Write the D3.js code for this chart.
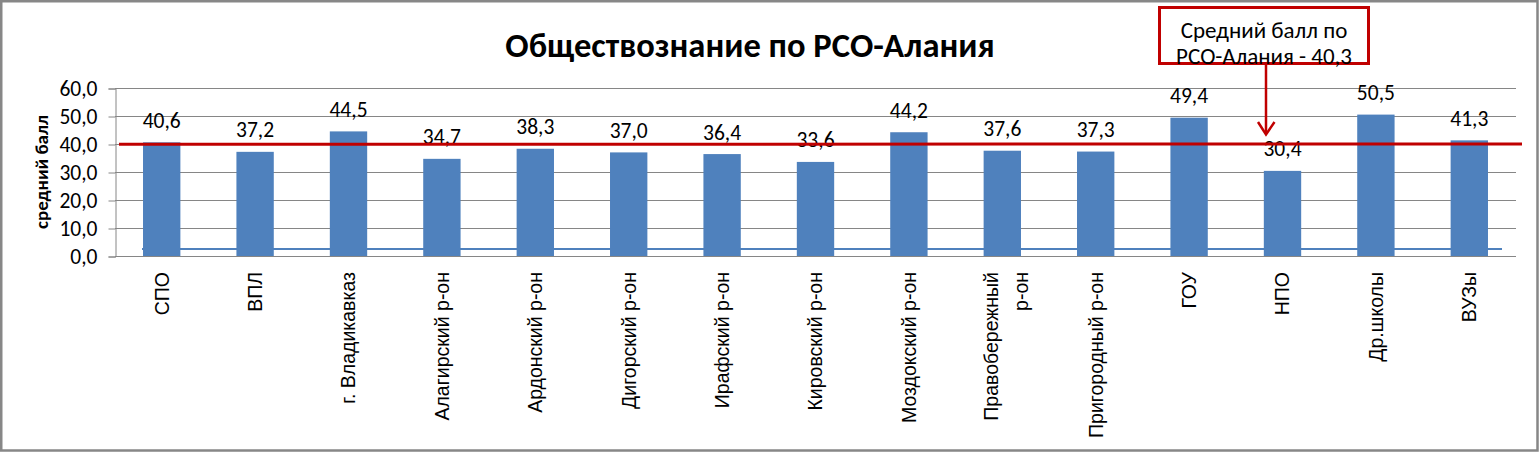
<!DOCTYPE html>
<html>
<head>
<meta charset="utf-8">
<script src="https://cdn.jsdelivr.net/npm/d3@7/dist/d3.min.js"></script>
<style>
  html, body { margin: 0; padding: 0; background: #fff; }
  svg { display: block; }
</style>
</head>
<body>
<script>
// ---- data ----
const categories = [
  ["СПО"], ["ВПЛ"], ["г. Владикавказ"], ["Алагирский р-он"], ["Ардонский р-он"],
  ["Дигорский р-он"], ["Ирафский р-он"], ["Кировский р-он"], ["Моздокский р-он"],
  ["Правобережный", "р-он"], ["Пригородный р-он"], ["ГОУ"], ["НПО"], ["Др.школы"], ["ВУЗы"]
];
const values = [40.6, 37.2, 44.5, 34.7, 38.3, 37.0, 36.4, 33.6, 44.2, 37.6, 37.3, 49.4, 30.4, 50.5, 41.3];
const yTicks = [0, 10, 20, 30, 40, 50, 60];
const averageValue = 40.3;
const baseLineValue = 2.5;
const titleText = "Обществознание по РСО-Алания";
const yAxisTitle = "средний балл";
const calloutLines = ["Средний балл по", "РСО-Алания - 40,3"];

// ---- layout ----
const W = 1539, H = 452;
const plot = { left: 115, right: 1516, top: 88, bottom: 256 };
const fmt = v => d3.format(".1f")(v).replace(".", ",");
const uiFont = "Carlito, Lato, 'Open Sans', sans-serif";
const labelFont = "'Liberation Sans', Arial, sans-serif";

const svg = d3.select("body").append("svg").attr("width", W).attr("height", H);

// chart border
svg.append("rect").attr("x", 1.25).attr("y", 1.25).attr("width", W - 2.75).attr("height", H - 2.75)
  .attr("fill", "#fff").attr("stroke", "#878787").attr("stroke-width", 2.5);

const x = d3.scaleBand().domain(d3.range(categories.length))
  .range([plot.left, plot.right]).paddingInner(0.6).paddingOuter(0.3);
const y = d3.scaleLinear().domain([0, 60]).range([plot.bottom, plot.top]);

// gridlines
svg.append("g").selectAll("line").data(yTicks.filter(t => t > 0)).join("line")
  .attr("x1", plot.left).attr("x2", plot.right)
  .attr("y1", d => y(d) + 0.5).attr("y2", d => y(d) + 0.5)
  .attr("stroke", "#868686").attr("stroke-width", 1);

// y axis
const yAxis = svg.append("g").attr("transform", `translate(${plot.left + 0.5},0.5)`)
  .call(d3.axisLeft(y).tickValues(yTicks).tickFormat(fmt).tickSize(7).tickPadding(11));
yAxis.select(".domain").attr("stroke", "#868686");
yAxis.selectAll(".tick line").attr("stroke", "#868686");
yAxis.selectAll(".tick text").attr("font-family", uiFont).attr("font-size", 21.5).attr("fill", "#000");

// x axis line
svg.append("line").attr("x1", plot.left).attr("x2", plot.right)
  .attr("y1", plot.bottom + 0.5).attr("y2", plot.bottom + 0.5)
  .attr("stroke", "#868686").attr("stroke-width", 1);

// bars
svg.append("g").selectAll("rect").data(values).join("rect")
  .attr("x", (d, i) => x(i)).attr("width", x.bandwidth())
  .attr("y", d => y(d)).attr("height", d => y(0) - y(d))
  .attr("fill", "#4f81bd");

// data labels
svg.append("g").selectAll("text").data(values).join("text")
  .attr("x", (d, i) => x(i) + x.bandwidth() / 2).attr("y", d => y(d) - 14.5)
  .attr("text-anchor", "middle").attr("font-family", uiFont).attr("font-size", 21.5)
  .attr("fill", "#000").text(fmt);

// category labels (rotated)
const catG = svg.append("g");
categories.forEach((lines, i) => {
  const cx = x(i) + x.bandwidth() / 2;
  const spacing = 30;
  const offset = lines.length > 1 ? 4 : 0;
  lines.forEach((ln, j) => {
    const lx = cx + offset + (j - (lines.length - 1) / 2) * spacing + 6.8;
    catG.append("text")
      .attr("transform", `translate(${lx},${plot.bottom + 16}) rotate(-90)`)
      .attr("text-anchor", "end")
      .attr("font-family", labelFont).attr("font-size", 19.5).attr("fill", "#000")
      .text(ln);
  });
});

// blue baseline shape
svg.append("line").attr("x1", 142).attr("x2", 1502)
  .attr("y1", y(baseLineValue)).attr("y2", y(baseLineValue))
  .attr("stroke", "#4f81bd").attr("stroke-width", 2);

// red average line
svg.append("line").attr("x1", 119).attr("x2", 1522)
  .attr("y1", y(averageValue) + 1.2).attr("y2", y(averageValue) + 0.8)
  .attr("stroke", "#c00000").attr("stroke-width", 3);

// title
svg.append("text").attr("x", 750).attr("y", 57).attr("text-anchor", "middle")
  .attr("font-family", uiFont).attr("font-weight", "bold").attr("font-size", 34.5)
  .attr("fill", "#000").text(titleText);

// y axis title
svg.append("text").attr("transform", `translate(48,172) rotate(-90)`)
  .attr("text-anchor", "middle").attr("font-family", uiFont).attr("font-weight", "bold")
  .attr("font-size", 19).attr("fill", "#000").text(yAxisTitle);

// callout box
svg.append("rect").attr("x", 1159.5).attr("y", 7.5).attr("width", 209).attr("height", 56)
  .attr("fill", "#fff").attr("stroke", "#c00000").attr("stroke-width", 3);
calloutLines.forEach((t, i) => {
  svg.append("text").attr("x", 1264).attr("y", 37.5 + i * 26).attr("text-anchor", "middle")
    .attr("font-family", uiFont).attr("font-size", 23).attr("fill", "#000").text(t);
});

// arrow
svg.append("line").attr("x1", 1266).attr("x2", 1266).attr("y1", 65).attr("y2", 134)
  .attr("stroke", "#c00000").attr("stroke-width", 2.5);
svg.append("path").attr("d", "M1258,122 L1266,134.5 L1274.5,122")
  .attr("fill", "none").attr("stroke", "#c00000").attr("stroke-width", 2.5);
</script>
</body>
</html>
